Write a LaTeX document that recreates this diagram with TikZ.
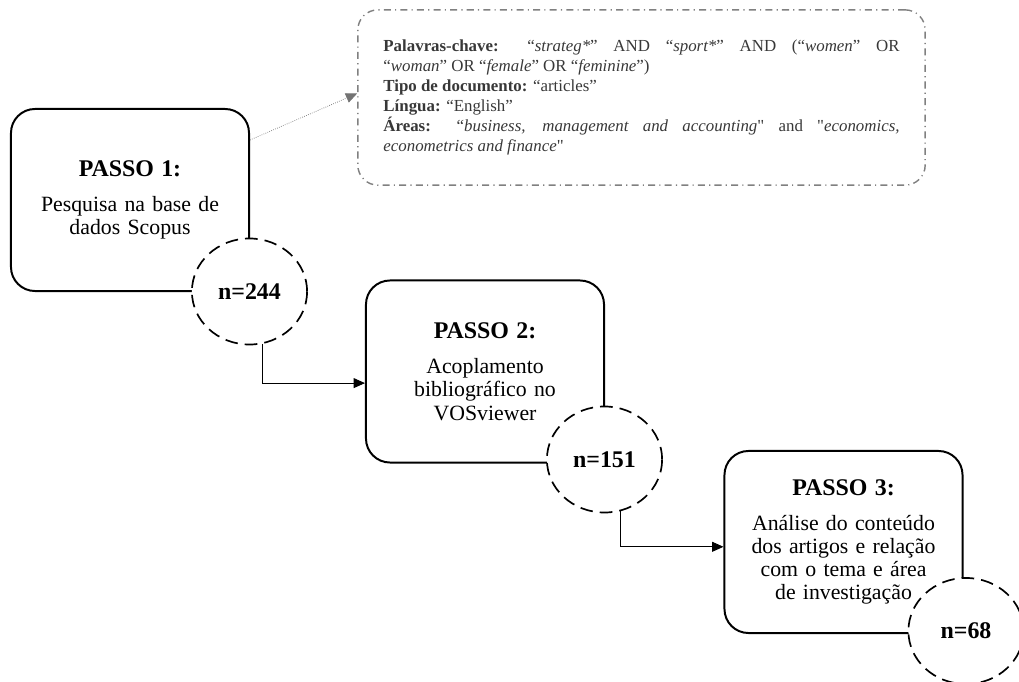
\documentclass[tikz,border=0pt]{standalone}
\usepackage{fontspec}
\setmainfont{Liberation Serif}
\usepackage{tikz}
\usetikzlibrary{shapes.geometric,arrows.meta}

\newcommand{\stephead}[1]{{\fontsize{17}{17}\selectfont\textbf{#1}}}

\begin{document}
\begin{tikzpicture}[x=0.025cm,y=-0.025cm,
  stepbox/.style={draw,line width=1.4pt,rounded corners=0.6cm,minimum width=5.95cm,minimum height=4.55cm,text width=5.6cm,align=center,font=\fontsize{15.5}{16.5}\selectfont},
  countcirc/.style={ellipse,draw,dashed,dash pattern=on 9pt off 5pt,line width=1.2pt,fill=white,minimum width=2.88cm,minimum height=2.65cm,inner sep=0pt,font=\fontsize{17}{17}\selectfont\bfseries},
  flow/.style={line width=0.6pt,-{Triangle[length=8pt,width=7pt]}},
  note/.style={black!55,line width=0.5pt,densely dotted,-{Triangle[length=8pt,width=7pt]}}]
\useasboundingbox (0,0) rectangle (1019,682);

% Search criteria
\node[draw=black!50,line width=1pt,rounded corners=0.5cm,dash pattern=on 5pt off 3pt on 0.8pt off 3pt,
  minimum width=14.18cm,minimum height=4.38cm,text width=12.9cm,align=justify,text=black!78,
  font=\fontsize{12}{14.2}\selectfont] (crit) at (641.5,97.5)
{\textbf{Palavras-chave:} “\textit{strateg*}” AND “\textit{sport*}” AND (“\textit{women}” OR\linebreak
“\textit{woman}” OR “\textit{female}” OR “\textit{feminine}”)\\
\textbf{Tipo de documento:} “articles”\\
\textbf{Língua:} “English”\\
\textbf{Áreas:} “\textit{business, management and accounting}\textquotedbl{} and \textquotedbl\textit{economics,}\linebreak
\textit{econometrics and finance}\textquotedbl};

% Steps
\node[stepbox] (s1) at (130,200) {\stephead{PASSO 1:}\\[0.3cm]Pesquisa na base de\\dados Scopus};
\node[stepbox] (s2) at (485,371.5) {\stephead{PASSO 2:}\\[0.3cm]Acoplamento\\bibliográfico no\\VOSviewer};
\node[stepbox] (s3) at (843.5,542) {\stephead{PASSO 3:}\\[0.3cm]Análise do conteúdo\\dos artigos e relação\\com o tema e área\\de investigação};

% Counts
\node[countcirc] (n1) at (249.5,291.5) {n=244};
\node[countcirc] (n2) at (604.5,459.5) {n=151};
\node[countcirc] (n3) at (966,631) {n=68};

% Connectors
\draw[note] ([yshift=1.5cm]s1.east) -- ([yshift=0.1cm]crit.west);
\draw[flow] (n1.-76) |- ([yshift=-0.29cm]s2.west);
\draw[flow] (n2.-73) |- ([yshift=-0.12cm]s3.west);

\end{tikzpicture}
\end{document}
